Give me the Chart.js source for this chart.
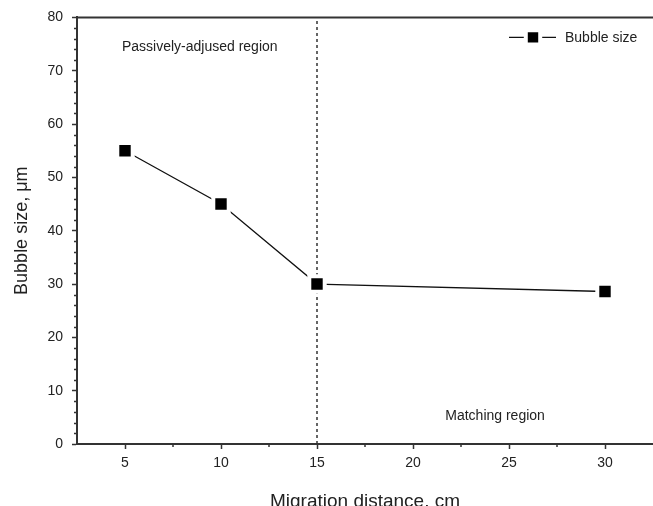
<!DOCTYPE html>
<html>
<head>
<meta charset="utf-8">
<script src="https://cdn.jsdelivr.net/npm/chart.js@4"></script>
<style>
    body { margin: 0; background: #fff; }
    #wrap { width: 653px; height: 506px; }
</style>
</head>
<body>
<div id="wrap"><canvas id="bubbleChart"></canvas></div>
<script>
/**=================
 * Data
 =================*/
const distances = [5, 10, 15, 30];
const bubbleSizes = [55, 45, 30, 28.6];
const xTicks = [5, 10, 15, 20, 25, 30];
const yTicks = [0, 10, 20, 30, 40, 50, 60, 70, 80];
const boundaryX = 15;
const seriesLabel = 'Bubble size';
const regionLabels = ['Passively-adjused region', 'Matching region'];

const ink = '#222';
const axisColor = '#333';
Chart.defaults.font.family = '"Liberation Sans", Arial, sans-serif';
Chart.defaults.color = ink;

/**=================
 * Extras: frame, minor ticks, region text, legend
 =================*/
const decorations = {
    id: 'decorations',
    afterDraw(chart) {
        const { ctx, chartArea, scales: { x, y } } = chart;
        ctx.save();

        // top frame line
        ctx.strokeStyle = axisColor;
        ctx.lineWidth = 2;
        ctx.beginPath();
        ctx.moveTo(chartArea.left, chartArea.top);
        ctx.lineTo(chart.width, chartArea.top);
        ctx.stroke();

        // minor ticks (between majors)
        ctx.lineWidth = 1.5;
        ctx.beginPath();
        for (let i = 0; i < yTicks.length - 1; i++) {
            const step = (yTicks[i + 1] - yTicks[i]) / 5;
            for (let k = 1; k < 5; k++) {
                const py = Math.round(y.getPixelForValue(yTicks[i] + k * step)) + 0.5;
                ctx.moveTo(chartArea.left - 3, py);
                ctx.lineTo(chartArea.left, py);
            }
        }
        for (let i = 0; i < xTicks.length - 1; i++) {
            const px = Math.round(x.getPixelForValue((xTicks[i] + xTicks[i + 1]) / 2));
            ctx.moveTo(px, chartArea.bottom);
            ctx.lineTo(px, chartArea.bottom + 3);
        }
        ctx.stroke();

        // region labels
        ctx.fillStyle = ink;
        ctx.font = '14px "Liberation Sans", Arial, sans-serif';
        ctx.textAlign = 'left';
        ctx.textBaseline = 'middle';
        ctx.fillText(regionLabels[0], x.getPixelForValue(4.84), y.getPixelForValue(74.4));
        ctx.fillText(regionLabels[1], x.getPixelForValue(21.68), y.getPixelForValue(5.25));

        // legend: line + square marker + text
        const ly = chartArea.top + 20;
        const lx = chartArea.right - 144;
        ctx.strokeStyle = '#111';
        ctx.lineWidth = 1.3;
        ctx.beginPath();
        ctx.moveTo(lx, ly);
        ctx.lineTo(lx + 47, ly);
        ctx.stroke();
        ctx.fillStyle = '#000';
        ctx.strokeStyle = '#fff';
        ctx.lineWidth = 4;
        Chart.helpers.drawPoint(ctx, { pointStyle: 'rect', radius: 10.2, borderWidth: 4, rotation: 0 }, lx + 24, ly);
        ctx.fillStyle = ink;
        ctx.fillText(seriesLabel, lx + 56, ly + 1);

        ctx.restore();
    }
};

/**=================
 * Chart
 =================*/
const ctx = document.getElementById('bubbleChart');
const bubbleChart = new Chart(ctx, {
    type: 'line',
    data: {
        datasets: [{
            label: seriesLabel,
            data: distances.map((d, i) => ({ x: d, y: bubbleSizes[i] })),
            borderColor: '#111',
            borderWidth: 1.3,
            pointStyle: 'rect',
            pointRadius: 10.9,
            pointBackgroundColor: '#000',
            pointBorderColor: '#fff',
            pointBorderWidth: 4,
            tension: 0
        }, {
            label: 'boundary',
            data: [{ x: boundaryX, y: yTicks[0] }, { x: boundaryX, y: yTicks[yTicks.length - 1] }],
            borderColor: axisColor,
            borderWidth: 1.5,
            borderDash: [3, 3],
            pointRadius: 0
        }]
    },
    plugins: [decorations],
    options: {
        responsive: true,
        maintainAspectRatio: false,
        animation: false,
        layout: {
            autoPadding: false,
            padding: { top: 17, left: 0, right: -2, bottom: -10 }
        },
        plugins: {
            legend: { display: false },
            tooltip: { enabled: false }
        },
        scales: {
            x: {
                type: 'linear',
                min: 2.5,
                max: 32.5,
                afterBuildTicks: (scale) => { scale.ticks = xTicks.map(v => ({ value: v })); },
                afterFit: (scale) => {
                    scale.height = 72;
                    scale.paddingLeft = 0;
                    scale.paddingRight = 0;
                },
                ticks: {
                    font: { size: 14 },
                    color: ink,
                    padding: 6,
                    maxRotation: 0
                },
                grid: {
                    drawOnChartArea: false,
                    drawTicks: true,
                    tickLength: 5,
                    tickWidth: 1.5,
                    tickColor: axisColor
                },
                border: { display: true, color: axisColor, width: 2 },
                title: {
                    display: true,
                    text: 'Migration distance, cm',
                    font: { size: 19 },
                    color: ink,
                    padding: { top: 0, bottom: 3 }
                }
            },
            y: {
                min: 0,
                max: 80,
                afterBuildTicks: (scale) => { scale.ticks = yTicks.map(v => ({ value: v })); },
                afterFit: (scale) => { scale.width = 77; },
                ticks: {
                    font: { size: 14 },
                    color: ink,
                    padding: 9
                },
                grid: {
                    drawOnChartArea: false,
                    drawTicks: true,
                    tickLength: 5,
                    tickWidth: 1.5,
                    tickColor: axisColor
                },
                border: { display: true, color: axisColor, width: 2 },
                title: {
                    display: true,
                    text: 'Bubble size, μm',
                    font: { size: 18 },
                    color: ink,
                    padding: { top: 11, bottom: 0 }
                }
            }
        }
    }
});
</script>
</body>
</html>
